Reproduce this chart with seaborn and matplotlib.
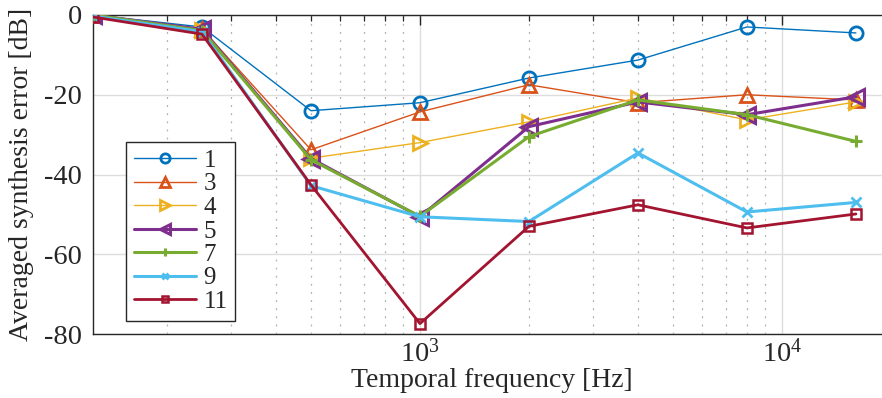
import numpy as np
import pandas as pd
import matplotlib
matplotlib.use("Agg")
import matplotlib.pyplot as plt
import seaborn as sns
from matplotlib.ticker import LogLocator, LogFormatterMathtext, NullFormatter

# data
freqs = [125, 250, 500, 1000, 2000, 4000, 8000, 16000]
orders = ["1", "3", "4", "5", "7", "9", "11"]
err_1 = [0.0, -3.0, -24.0, -22.0, -15.8, -11.3, -3.0, -4.5]
err_3 = [0.0, -3.5, -33.8, -24.3, -17.5, -22.0, -20.0, -21.3]
err_4 = [0.0, -3.8, -35.9, -32.0, -26.8, -20.8, -26.3, -21.8]
err_5 = [0.0, -3.6, -36.0, -50.6, -28.0, -21.8, -25.0, -20.5]
err_7 = [0.0, -3.9, -36.3, -50.5, -30.5, -21.3, -25.0, -31.7]
err_9 = [-0.3, -4.2, -42.8, -50.6, -51.8, -34.6, -49.4, -47.0]
err_11 = [-0.5, -4.8, -42.6, -77.4, -53.0, -47.6, -53.4, -49.9]
errors = [err_1, err_3, err_4, err_5, err_7, err_9, err_11]

colors = ["#0072BD", "#D95319", "#EDB120", "#7E2F8E", "#77AC30", "#4DBEEE", "#A2142F"]
markers = ["o", "^", ">", "<", "+", "x", "s"]
widths = [1.0, 1.0, 1.0, 2.2, 2.2, 2.2, 2.0]
msizes = [9.5, 10, 10, 11, 9, 7, 7]
mews = [2.0, 2.0, 2.0, 2.2, 2.2, 2.0, 1.8]

rows = []
for o, vals in zip(orders, errors):
    for f, v in zip(freqs, vals):
        rows.append({"order": o, "freq": f, "err": v})
df = pd.DataFrame(rows)

sns.set_theme(style="white")
plt.rcParams["font.family"] = ["Liberation Serif", "DejaVu Serif"]
plt.rcParams["mathtext.fontset"] = "stix"
plt.rcParams["text.color"] = "#262626"

fig = plt.figure(figsize=(8.82, 3.98), dpi=100)
ax = fig.add_axes([93 / 882, 64 / 398, 798 / 882, 319 / 398])

for i, o in enumerate(orders):
    sub = df[df["order"] == o]
    sns.lineplot(data=sub, x="freq", y="err", ax=ax, color=colors[i], lw=widths[i],
                 marker=markers[i], markersize=msizes[i], markerfacecolor="none",
                 markeredgecolor=colors[i], markeredgewidth=mews[i], label=o,
                 zorder=3 + i)

ax.set_xscale("log")
ax.set_xlim(125, 20000)
ax.set_ylim(-80, 0)
ax.set_yticks([-80, -60, -40, -20, 0])
ax.set_yticklabels(["-80", "-60", "-40", "-20", "0"])
ax.xaxis.set_major_locator(LogLocator(base=10))
ax.xaxis.set_major_formatter(LogFormatterMathtext())
ax.xaxis.set_minor_locator(LogLocator(base=10, subs=np.arange(2, 10)))
ax.xaxis.set_minor_formatter(NullFormatter())

ax.grid(True, which="major", color="#dddddd", lw=1.0, ls="-")
ax.grid(True, which="minor", axis="x", color="#b0b0b0", lw=0.9, ls=(0, (1.5, 5)))
ax.set_axisbelow(True)

ax.tick_params(axis="both", which="major", direction="in", labelsize=20.5, length=7,
               width=1.0, color="#262626", labelcolor="#262626", top=True, pad=8)
ax.tick_params(axis="x", which="major", pad=4)
ax.tick_params(axis="x", which="minor", direction="in", length=4, width=0.9,
               color="#262626", top=True)
for s in ["left", "bottom", "top"]:
    ax.spines[s].set_color("#262626")
    ax.spines[s].set_linewidth(1.0)
ax.spines["right"].set_visible(False)

ax.set_xlabel("Temporal frequency [Hz]", fontsize=20, labelpad=0)
ax.set_ylabel("Averaged synthesis error [dB]", fontsize=20, labelpad=7)

leg = ax.legend(loc="upper left", bbox_to_anchor=(33 / 798, 192 / 319), fontsize=18,
                frameon=True, fancybox=False, edgecolor="#262626", framealpha=1,
                handlelength=2.5, labelspacing=0.04, borderpad=0.3, handletextpad=0.3,
                borderaxespad=0, markerscale=0.7)
leg.get_frame().set_linewidth(1.0)

fig.savefig("out.png", dpi=100)
